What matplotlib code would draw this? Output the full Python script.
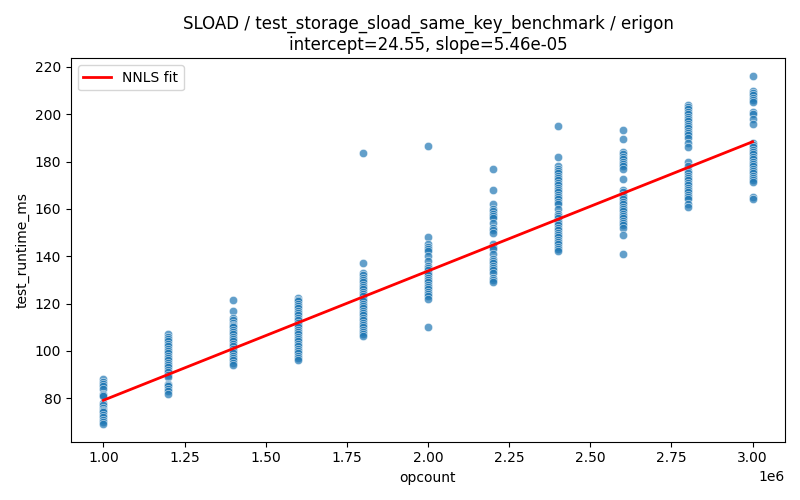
import numpy as np
import pandas as pd
import matplotlib
matplotlib.use("Agg")
import matplotlib.pyplot as plt
import seaborn as sns

# runtime samples (ms) per opcount
runtimes = {
    1000000: [88, 87, 86, 85, 84, 82, 81.5, 81, 78, 77, 76, 75, 74.5, 74, 73, 72, 71, 70, 69],
    1200000: [107, 106, 105, 104, 103, 102, 101, 100, 99, 98, 97, 96, 95, 94, 93, 92,
              91, 90, 89, 86, 85.5, 85, 84, 83, 82],
    1400000: [121.6, 117, 114, 113, 112, 111, 110.5, 110, 109, 108, 107, 106, 105, 104,
              103, 102, 101, 100, 99, 98, 97, 96, 95, 94],
    1600000: [122.5, 121.5, 121, 120, 119, 118, 117, 116, 115, 114, 113, 112, 111, 110,
              109, 108, 107, 106, 105, 104, 103, 102, 101, 100, 99, 98, 97, 96],
    1800000: [183.5, 137, 133, 132, 131, 130, 129, 128, 127, 126, 125, 124, 123, 122,
              121, 120, 119, 118, 117, 116, 115, 114, 113, 112, 111, 110, 109, 108, 107, 106.5],
    2000000: [186.5, 148, 145, 144, 143, 142, 140, 138, 136, 135, 134, 133, 132, 131,
              130, 129, 128, 127, 126, 125, 124, 123, 122, 110.2],
    2200000: [177, 168, 162, 160, 159, 158, 157, 156, 154, 152, 151, 150, 145, 144, 143,
              141, 139, 138, 137, 136, 135, 134, 133, 131, 130, 129],
    2400000: [195, 182, 178, 177, 176, 175, 174, 173, 172, 171, 170, 169, 168, 167, 166,
              165, 164, 163, 162, 160, 158, 157, 156, 155, 154, 153, 152, 151, 150, 149,
              148, 147, 146, 145, 144, 143, 142],
    2600000: [193.4, 189.4, 184, 183, 182, 181, 180, 179, 178, 177, 172.5, 168, 167, 166,
              165, 164, 163, 162, 161, 160, 159, 158, 157, 156, 155, 154, 153, 152, 149, 141],
    2800000: [204, 203, 202, 201, 200, 199, 198, 197, 196, 195, 194, 193, 192, 191, 190,
              188, 186, 180, 178, 176, 175, 174, 173, 172, 171, 170, 169, 168, 167, 166,
              165, 164, 162, 161],
    3000000: [216.2, 210, 209, 208, 207, 206, 205, 201, 200, 198, 196, 188, 187, 186, 185,
              184, 183, 182, 181, 180, 179, 178, 177, 176, 175, 174, 173, 172, 171.5, 165, 164],
}

intercept = 24.55
slope = 5.46e-05

rows = [(op, t) for op, vals in runtimes.items() for t in vals]
df = pd.DataFrame(rows, columns=["opcount", "test_runtime_ms"])

fig, ax = plt.subplots(figsize=(8, 5), dpi=100)
sns.scatterplot(data=df, x="opcount", y="test_runtime_ms", alpha=0.7, ax=ax)

xs = np.array([df["opcount"].min(), df["opcount"].max()])
ax.plot(xs, intercept + slope * xs, color="red", linewidth=2, label="NNLS fit")

ax.set_title(f"SLOAD / test_storage_sload_same_key_benchmark / erigon\n"
             f"intercept={intercept:.2f}, slope={slope:.2e}")
ax.set_xlabel("opcount")
ax.set_ylabel("test_runtime_ms")
ax.legend(loc="upper left")

plt.tight_layout()
plt.savefig("out.png")
